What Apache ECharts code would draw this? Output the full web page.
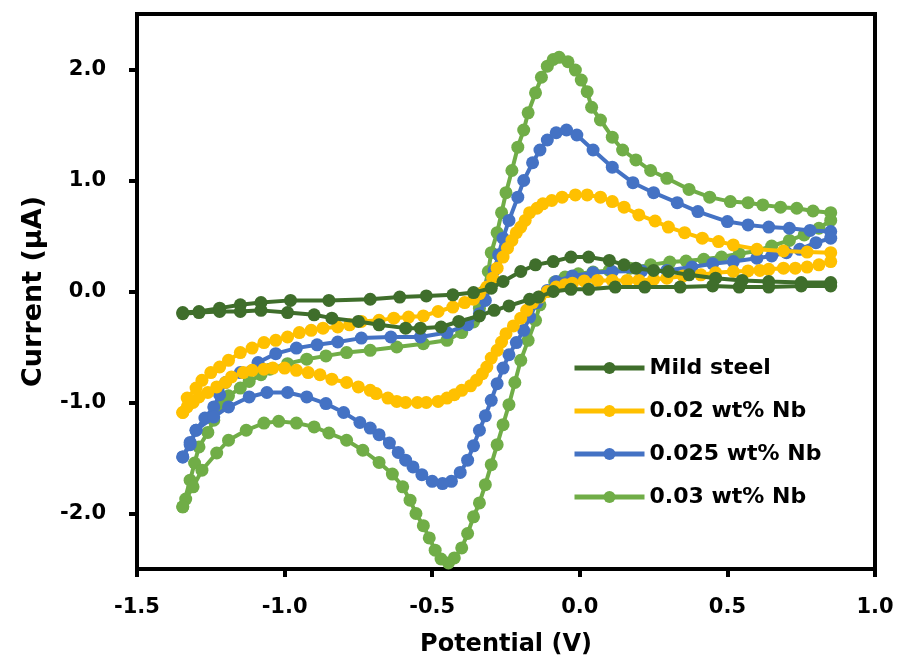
<!DOCTYPE html>
<html>
<head>
<meta charset="utf-8" />
<title>CV curves</title>
<script src="https://cdn.jsdelivr.net/npm/echarts@6/dist/echarts.min.js"></script>
<style>
  html, body { margin: 0; padding: 0; background: #fff; }
  #chart { width: 899px; height: 668px; }
</style>
</head>
<body>
<div id="chart"></div>
<script>
// series names, legend order
var names = ['Mild steel', '0.02 wt% Nb', '0.025 wt% Nb', '0.03 wt% Nb'];
var colors = ['#3f6e2b', '#ffc000', '#4472c4', '#70ad47'];
var yTicks = [-2, -1, 0, 1, 2];

// Mild steel: forward (anodic) and reverse (cathodic) sweep, [V, uA]
var msFwd = [[-1.345,-0.19],[-1.29,-0.18],[-1.22,-0.15],[-1.15,-0.12],[-1.08,-0.10],[-0.98,-0.08],
  [-0.85,-0.08],[-0.71,-0.07],[-0.61,-0.05],[-0.52,-0.04],[-0.43,-0.03],[-0.36,-0.01],[-0.30,0.03],
  [-0.26,0.09],[-0.20,0.18],[-0.15,0.24],[-0.09,0.27],[-0.03,0.31],[0.03,0.31],[0.10,0.28],
  [0.15,0.24],[0.19,0.21],[0.25,0.19],[0.30,0.18],[0.37,0.15],[0.46,0.12],[0.55,0.10],[0.64,0.09],
  [0.75,0.08],[0.85,0.08]];
var msRev = [[0.85,0.05],[0.75,0.05],[0.64,0.04],[0.54,0.04],[0.45,0.05],[0.34,0.04],[0.22,0.04],
  [0.12,0.04],[0.03,0.02],[-0.03,0.02],[-0.09,0.00],[-0.14,-0.05],[-0.17,-0.07],[-0.24,-0.13],
  [-0.29,-0.17],[-0.34,-0.22],[-0.41,-0.27],[-0.47,-0.32],[-0.54,-0.33],[-0.59,-0.33],[-0.68,-0.30],
  [-0.75,-0.27],[-0.84,-0.24],[-0.90,-0.21],[-0.99,-0.19],[-1.08,-0.17],[-1.15,-0.18],[-1.22,-0.18],
  [-1.29,-0.19],[-1.345,-0.20]];

// 0.02 wt% Nb
var nb02Fwd = [[-1.345,-1.09],[-1.33,-0.96],[-1.30,-0.87],[-1.28,-0.80],[-1.25,-0.73],[-1.22,-0.68],
  [-1.19,-0.62],[-1.15,-0.55],[-1.11,-0.51],[-1.07,-0.46],[-1.03,-0.44],[-0.99,-0.41],[-0.95,-0.37],
  [-0.91,-0.35],[-0.87,-0.33],[-0.82,-0.32],[-0.78,-0.30],[-0.74,-0.27],[-0.68,-0.26],[-0.63,-0.24],
  [-0.58,-0.23],[-0.53,-0.22],[-0.48,-0.18],[-0.43,-0.14],[-0.39,-0.10],[-0.36,-0.07],[-0.34,-0.02],
  [-0.315,0.04],[-0.295,0.12],[-0.28,0.21],[-0.26,0.31],[-0.245,0.39],[-0.23,0.46],[-0.215,0.53],
  [-0.20,0.58],[-0.185,0.64],[-0.17,0.71],[-0.145,0.75],[-0.125,0.79],[-0.095,0.82],[-0.06,0.85],
  [-0.015,0.87],[0.025,0.87],[0.07,0.85],[0.11,0.81],[0.15,0.76],[0.20,0.69],[0.255,0.635],
  [0.30,0.58],[0.355,0.53],[0.415,0.48],[0.47,0.45],[0.52,0.42],[0.60,0.38],[0.69,0.365],
  [0.77,0.355],[0.85,0.35]];
var nb02Rev = [[0.85,0.27],[0.81,0.24],[0.77,0.22],[0.73,0.21],[0.69,0.21],[0.64,0.20],[0.61,0.19],
  [0.57,0.185],[0.52,0.18],[0.46,0.17],[0.41,0.15],[0.35,0.14],[0.295,0.12],[0.25,0.11],[0.20,0.10],
  [0.16,0.10],[0.11,0.10],[0.06,0.10],[0.015,0.095],[-0.025,0.075],[-0.05,0.06],[-0.08,0.04],
  [-0.11,0.00],[-0.135,-0.05],[-0.16,-0.10],[-0.18,-0.17],[-0.20,-0.24],[-0.225,-0.31],[-0.25,-0.38],
  [-0.265,-0.455],[-0.28,-0.53],[-0.30,-0.60],[-0.315,-0.68],[-0.33,-0.74],[-0.35,-0.80],[-0.37,-0.85],
  [-0.40,-0.89],[-0.425,-0.93],[-0.45,-0.96],[-0.48,-0.99],[-0.52,-1.00],[-0.55,-1.00],[-0.59,-1.00],
  [-0.62,-0.99],[-0.65,-0.96],[-0.69,-0.92],[-0.71,-0.89],[-0.75,-0.86],[-0.79,-0.82],[-0.84,-0.79],
  [-0.88,-0.75],[-0.92,-0.73],[-0.96,-0.71],[-1.00,-0.69],[-1.04,-0.69],[-1.07,-0.70],[-1.11,-0.71],
  [-1.14,-0.73],[-1.18,-0.77],[-1.20,-0.82],[-1.23,-0.86],[-1.26,-0.91],[-1.29,-0.95],[-1.31,-1.00],
  [-1.33,-1.04],[-1.345,-1.09]];

// 0.025 wt% Nb
var nb025Fwd = [[-1.345,-1.49],[-1.32,-1.36],[-1.30,-1.25],[-1.27,-1.14],[-1.24,-1.04],[-1.22,-0.93],
  [-1.20,-0.82],[-1.15,-0.73],[-1.09,-0.64],[-1.03,-0.56],[-0.96,-0.51],[-0.89,-0.48],[-0.82,-0.455],
  [-0.74,-0.42],[-0.64,-0.41],[-0.54,-0.41],[-0.45,-0.37],[-0.38,-0.30],[-0.34,-0.20],[-0.32,-0.08],
  [-0.305,0.06],[-0.29,0.19],[-0.275,0.33],[-0.26,0.48],[-0.24,0.64],[-0.21,0.85],[-0.19,1.00],
  [-0.16,1.16],[-0.135,1.275],[-0.11,1.365],[-0.08,1.43],[-0.045,1.455],[-0.01,1.41],[0.045,1.275],
  [0.11,1.12],[0.18,0.98],[0.25,0.89],[0.33,0.80],[0.40,0.72],[0.50,0.63],[0.57,0.60],[0.64,0.58],
  [0.71,0.57],[0.78,0.55],[0.85,0.54]];
var nb025Rev = [[0.85,0.48],[0.80,0.44],[0.745,0.38],[0.70,0.35],[0.65,0.32],[0.60,0.30],[0.52,0.27],
  [0.45,0.25],[0.38,0.22],[0.295,0.19],[0.21,0.185],[0.11,0.18],[0.045,0.17],[-0.025,0.14],
  [-0.08,0.09],[-0.11,0.01],[-0.145,-0.10],[-0.17,-0.23],[-0.19,-0.35],[-0.215,-0.46],[-0.24,-0.57],
  [-0.26,-0.69],[-0.28,-0.83],[-0.30,-0.98],[-0.32,-1.12],[-0.34,-1.25],[-0.36,-1.39],[-0.38,-1.52],
  [-0.405,-1.63],[-0.435,-1.71],[-0.465,-1.73],[-0.50,-1.71],[-0.535,-1.65],[-0.565,-1.58],
  [-0.59,-1.52],[-0.615,-1.45],[-0.645,-1.365],[-0.68,-1.29],[-0.71,-1.23],[-0.745,-1.18],
  [-0.80,-1.09],[-0.86,-1.01],[-0.925,-0.95],[-0.99,-0.91],[-1.06,-0.91],[-1.12,-0.95],[-1.19,-1.04],
  [-1.24,-1.13],[-1.30,-1.25],[-1.32,-1.38],[-1.345,-1.49]];

// 0.03 wt% Nb
var nb03Fwd = [[-1.345,-1.94],[-1.32,-1.70],[-1.305,-1.545],[-1.29,-1.40],[-1.26,-1.27],[-1.24,-1.16],
  [-1.21,-1.02],[-1.19,-0.94],[-1.15,-0.87],[-1.12,-0.81],[-1.08,-0.75],[-1.05,-0.70],[-0.99,-0.65],
  [-0.925,-0.61],[-0.86,-0.58],[-0.79,-0.55],[-0.71,-0.53],[-0.62,-0.50],[-0.53,-0.47],[-0.45,-0.44],
  [-0.40,-0.37],[-0.36,-0.275],[-0.34,-0.15],[-0.325,0.00],[-0.31,0.18],[-0.30,0.35],[-0.28,0.53],
  [-0.265,0.71],[-0.25,0.89],[-0.23,1.09],[-0.21,1.30],[-0.19,1.455],[-0.175,1.61],[-0.15,1.79],
  [-0.13,1.93],[-0.11,2.03],[-0.09,2.09],[-0.07,2.11],[-0.04,2.07],[-0.015,1.995],[0.005,1.905],
  [0.025,1.80],[0.04,1.66],[0.07,1.545],[0.11,1.39],[0.145,1.275],[0.19,1.185],[0.24,1.09],
  [0.295,1.02],[0.37,0.92],[0.44,0.85],[0.51,0.81],[0.57,0.80],[0.62,0.78],[0.68,0.76],[0.735,0.75],
  [0.79,0.725],[0.85,0.71]];
var nb03Rev = [[0.85,0.64],[0.81,0.57],[0.76,0.51],[0.71,0.46],[0.65,0.41],[0.60,0.365],[0.54,0.34],
  [0.48,0.31],[0.42,0.29],[0.36,0.275],[0.305,0.265],[0.24,0.24],[0.17,0.21],[0.10,0.19],[0.045,0.175],
  [-0.005,0.16],[-0.05,0.13],[-0.085,0.085],[-0.11,0.00],[-0.135,-0.12],[-0.15,-0.26],[-0.175,-0.44],
  [-0.20,-0.62],[-0.22,-0.82],[-0.24,-1.02],[-0.26,-1.20],[-0.28,-1.38],[-0.30,-1.56],[-0.32,-1.74],
  [-0.34,-1.905],[-0.36,-2.03],[-0.38,-2.18],[-0.40,-2.31],[-0.425,-2.40],[-0.445,-2.445],
  [-0.47,-2.41],[-0.49,-2.33],[-0.51,-2.22],[-0.53,-2.11],[-0.555,-2.00],[-0.575,-1.88],[-0.60,-1.76],
  [-0.635,-1.645],[-0.68,-1.54],[-0.735,-1.43],[-0.79,-1.34],[-0.85,-1.275],[-0.90,-1.22],
  [-0.96,-1.185],[-1.02,-1.17],[-1.07,-1.185],[-1.13,-1.25],[-1.19,-1.34],[-1.23,-1.455],
  [-1.28,-1.61],[-1.31,-1.76],[-1.335,-1.87],[-1.345,-1.94]];

var loops = [msFwd.concat(msRev), nb02Fwd.concat(nb02Rev), nb025Fwd.concat(nb025Rev), nb03Fwd.concat(nb03Rev)];

var font = 'DejaVu Sans';
var chart = echarts.init(document.getElementById('chart'), null, { renderer: 'canvas' });

// draw 0.03 first so mild steel ends up on top
var series = [];
for (var i = loops.length - 1; i >= 0; i--) {
  series.push({
    name: names[i],
    type: 'line',
    data: loops[i],
    symbol: 'circle',
    symbolSize: 13,
    color: colors[i],
    lineStyle: { width: 4, color: colors[i] },
    itemStyle: { color: colors[i] },
    z: 2 + (loops.length - i)
  });
}

var option = {
  animation: false,
  backgroundColor: '#fff',
  grid: {
    left: 137, right: 24, top: 14, bottom: 99,
    show: true, borderColor: '#000', borderWidth: 4
  },
  legend: {
    data: names,
    orient: 'vertical',
    left: 567, top: 351,
    itemWidth: 70, itemHeight: 15, itemGap: 19,
    lineStyle: { width: 5 },
    textStyle: { fontFamily: font, fontWeight: 'bold', fontSize: 22, color: '#000', lineHeight: 24 }
  },
  xAxis: {
    type: 'value',
    min: -1.5, max: 1.0, interval: 0.5,
    name: 'Potential (V)',
    nameLocation: 'middle',
    nameGap: 64,
    nameTextStyle: { fontFamily: font, fontWeight: 'bold', fontSize: 24, color: '#000' },
    splitLine: { show: false },
    axisLine: { onZero: false, lineStyle: { color: '#000', width: 4 } },
    axisTick: { inside: false, length: 8, lineStyle: { color: '#000', width: 4 } },
    axisLabel: {
      margin: 28, fontFamily: font, fontWeight: 'bold', fontSize: 21, color: '#000',
      formatter: function (v) { return v.toFixed(1); }
    }
  },
  yAxis: {
    type: 'value',
    min: -2.5, max: 2.5,
    name: 'Current (\u00b5A)',
    nameLocation: 'middle',
    nameGap: 90,
    nameRotate: 90,
    nameTextStyle: { fontFamily: font, fontWeight: 'bold', fontSize: 27, color: '#000' },
    splitLine: { show: false },
    axisLine: { onZero: false, lineStyle: { color: '#000', width: 4 } },
    axisTick: { inside: false, length: 8, customValues: yTicks, lineStyle: { color: '#000', width: 4 } },
    axisLabel: {
      margin: 31, fontFamily: font, fontWeight: 'bold', fontSize: 21, color: '#000',
      customValues: yTicks,
      formatter: function (v) { return v.toFixed(1); }
    }
  },
  series: series
};
chart.setOption(option);
</script>
</body>
</html>
